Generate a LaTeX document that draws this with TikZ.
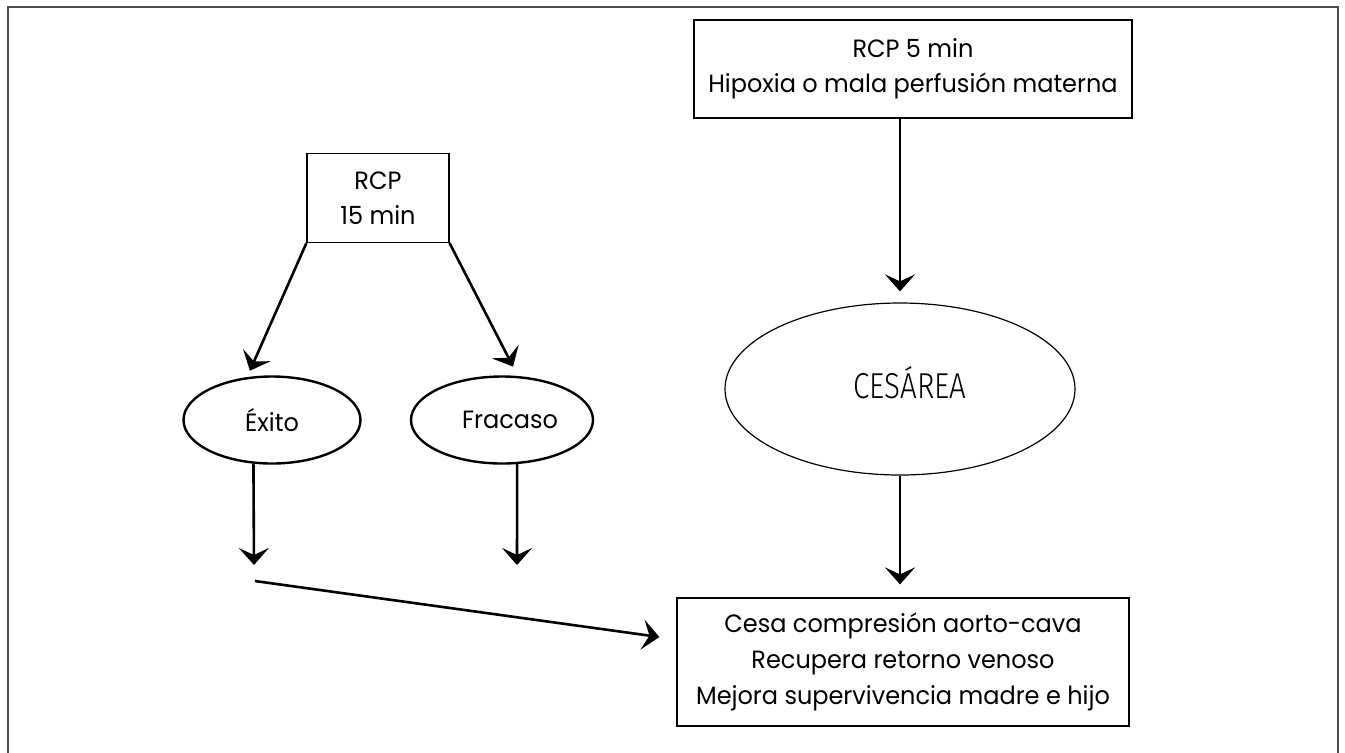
\documentclass[tikz,border=0pt]{standalone}
\usepackage{fontspec}
\setmainfont{Poppins}[FakeStretch=0.96]
\newfontfamily\cesfont{Fira Sans Light}[FakeStretch=0.82]
\usetikzlibrary{shapes,arrows.meta,positioning}
\tikzstyle{caja}=[rectangle,draw,line width=0.6pt,align=center,inner sep=0pt,font=\fontsize{12.5}{17.5}\selectfont]
\tikzstyle{elip}=[ellipse,draw,line width=1.2pt,inner sep=0pt,font=\fontsize{12.5}{17.5}\selectfont]
\tikzstyle{flecha}=[-{Stealth[length=8.5pt,width=15pt,inset=3.5pt]},line width=1.3pt]

\begin{document}
\begin{tikzpicture}[x=0.5pt,y=-0.5pt]
\useasboundingbox (0,0) rectangle (1345,752);
\draw[line width=0.6pt,gray!60!black] (8,760) -- (8,7) -- (1338,7) -- (1338,760);
\node[caja,minimum width=219pt,minimum height=49pt] (rcpcinco) at (913,69) {RCP 5 min\\Hipoxia o mala perfusión materna};
\node[caja,minimum width=71pt,minimum height=44.5pt] (rcpquince) at (378,198) {RCP\\15 min};
\node[elip,minimum width=88.5pt,minimum height=43.5pt] (exito) at (272,420) {Éxito};
\node[elip,minimum width=91pt,minimum height=43.5pt] (fracaso) at (502,420) {\hspace*{8pt}Fracaso};
\node[ellipse,draw,line width=0.6pt,minimum width=175pt,minimum height=86pt,font=\cesfont\fontsize{18}{20}\selectfont] (cesarea) at (900,389) {\hspace*{10pt}CESÁREA\raisebox{0pt}[0pt][6pt]{}};
\node[caja,minimum width=226pt,minimum height=64pt,font=\fontsize{12.5}{18}\selectfont] (final) at (903,662) {Cesa compresión aorto-cava\\Recupera retorno venoso\\Mejora supervivencia madre e hijo};
\coordinate (exitofin) at (254,565);
\coordinate (fracasofin) at (517,565);
\coordinate (juntaini) at (255,581);
\draw[flecha] (rcpquince.south west) -- ([shift={(0,-6)}]exito.117);
\draw[flecha] (rcpquince.south east) -- ([shift={(0,-9)}]fracaso.76);
\draw[flecha] (exito.247) -- (exitofin);
\draw[flecha] (fracaso.289) -- (fracasofin);
\draw[flecha] (juntaini) -- ([shift={(-17,-25)}]final.west);
\draw[flecha,shorten >=5.5pt] (cesarea.north |- rcpcinco.south) -- (cesarea.north);
\draw[flecha,shorten >=6.5pt] (cesarea.south) -- (cesarea.south |- final.north);
\end{tikzpicture}
\end{document}
